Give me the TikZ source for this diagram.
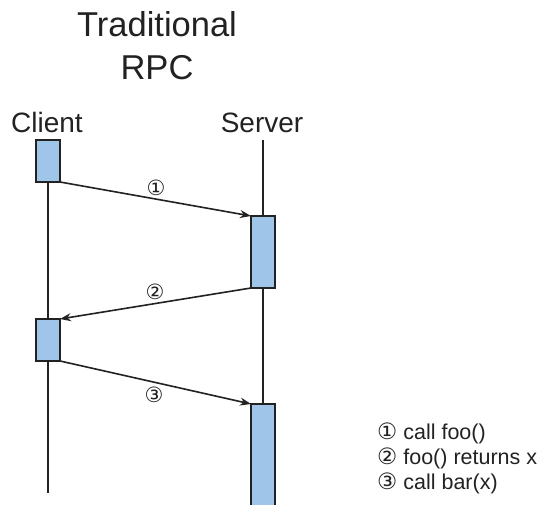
\documentclass[tikz,border=0pt]{standalone}
\usepackage{fontspec}
\setmainfont{Liberation Sans}
\newfontfamily\circfont{DejaVu Sans}
\newcommand\legnumfont{\circfont\fontsize{22.5}{22.5}\selectfont}
\usetikzlibrary{arrows.meta}
\definecolor{actfill}{HTML}{9FC5E8}
\definecolor{ink}{HTML}{222222}
\tikzset{
  act/.style={draw=ink, fill=actfill, line width=1.6pt, minimum width=24pt, inner sep=0pt, outer sep=0pt},
  life/.style={draw=ink, line width=1.6pt},
  msg/.style={draw=ink, line width=1.6pt, -{Stealth[length=11pt,width=8pt]}},
  steplbl/.style={font=\circfont\fontsize{21}{21}\selectfont, text=ink, inner sep=0pt},
  head/.style={font=\fontsize{28}{28}\selectfont, text=ink, anchor=base, inner sep=0pt},
  ttl/.style={font=\fontsize{34.5}{34.5}\selectfont, text=ink, anchor=base, inner sep=0pt},
  legend/.style={font=\fontsize{21.5}{21.5}\selectfont, text=ink, anchor=base west, inner sep=0pt}
}
\begin{document}
\begin{tikzpicture}[x=1pt, y=-1pt]
  \clip (0,0) rectangle (541,505);
  \fill[white] (0,0) rectangle (541,505);

  % title and participant heads
  \node[ttl] (title1) at (157,37) {Traditional};
  \node[ttl] (title2) at (157,80) {RPC};
  \node[head] (client) at (47,133) {Client};
  \node[head] (server) at (262,133) {Server};

  % activation boxes
  \node[act, minimum height=42pt] (c1) at (48,161) {};
  \node[act, minimum height=72pt] (s1) at (263,252) {};
  \node[act, minimum height=42pt] (c2) at (48,340) {};
  \node[act, minimum height=104pt] (s2) at (263,456) {};

  % lifelines
  \coordinate (stop) at (263,140);
  \coordinate (cend) at (48,493);
  \draw[life] (c1.south) -- (c2.north);
  \draw[life] (c2.south) -- (cend);
  \draw[life] (stop) -- (s1.north);
  \draw[life] (s1.south) -- (s2.north);

  % messages
  \draw[msg] (c1.south east) -- (s1.north west);
  \draw[msg] (s1.south west) -- (c2.north east);
  \draw[msg] (c2.south east) -- (s2.north west);
  \node[steplbl] (m1) at (156,188) {①};
  \node[steplbl] (m2) at (155,292) {②};
  \node[steplbl] (m3) at (154,395) {③};

  % legend
  \node[legend] (l1) at (377,439) {{\legnumfont ①} call foo()};
  \node[legend] (l2) at (377,464) {{\legnumfont ②} foo() returns x};
  \node[legend] (l3) at (377,489) {{\legnumfont ③} call bar(x)};
\end{tikzpicture}
\end{document}
